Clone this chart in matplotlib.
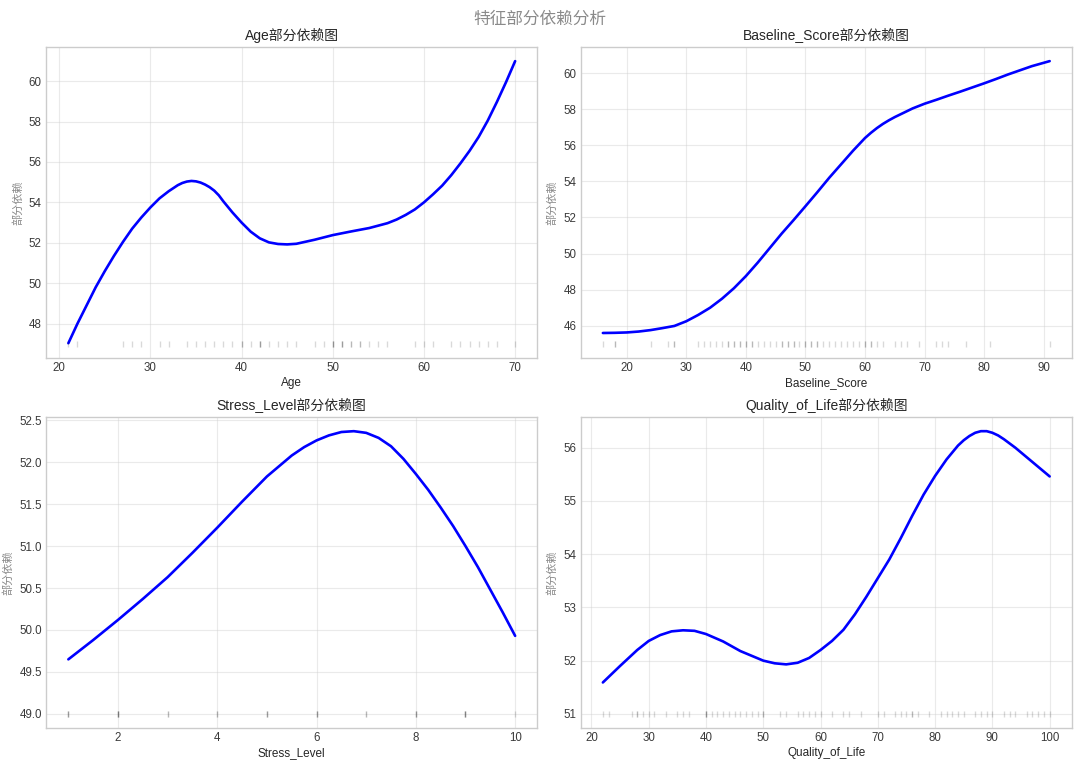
import matplotlib
matplotlib.use("Agg")
import matplotlib.pyplot as plt

plt.style.use('seaborn-v0_8-whitegrid')
plt.rcParams['font.family'] = ['Liberation Sans', 'Noto Sans CJK SC', 'DejaVu Sans']
plt.rcParams['axes.unicode_minus'] = False

suptitle_text = "特征部分依赖分析"
title_suffix = "部分依赖图"
ylabel_text = "部分依赖"

features = ["Age", "Baseline_Score", "Stress_Level", "Quality_of_Life"]

# Partial dependence curves
age_x = [21, 22, 23, 24, 25, 26, 27, 28, 29, 30, 31, 32, 33, 33.5, 34, 34.5, 35, 35.5, 36,
         36.5, 37, 37.5, 38, 39, 40, 41, 42, 43, 44, 45, 46, 47, 48, 50, 52, 54, 56, 57, 58,
         59, 60, 61, 62, 63, 64, 65, 66, 67, 68, 69, 70]
age_y = [47.03, 48.0, 48.9, 49.8, 50.6, 51.35, 52.05, 52.7, 53.25, 53.75, 54.2, 54.55, 54.85,
         54.96, 55.03, 55.06, 55.04, 54.98, 54.88, 54.75, 54.58, 54.35, 54.05, 53.5, 53.0,
         52.55, 52.22, 52.02, 51.94, 51.92, 51.95, 52.05, 52.15, 52.38, 52.56, 52.73, 52.97,
         53.15, 53.38, 53.65, 54.0, 54.4, 54.83, 55.35, 55.93, 56.55, 57.24, 58.05, 58.97,
         59.95, 60.99]

base_x = [16, 18, 20, 22, 24, 26, 28, 30, 32, 34, 36, 38, 40, 42, 44, 46, 48, 50, 52, 54,
          56, 58, 59, 60, 61, 62, 63, 64, 65, 66, 68, 70, 72, 74, 76, 78, 80, 82, 84, 86, 88, 91]
base_y = [45.6, 45.61, 45.63, 45.68, 45.76, 45.87, 45.99, 46.25, 46.6, 47.0, 47.5, 48.08,
          48.75, 49.5, 50.3, 51.1, 51.85, 52.62, 53.4, 54.2, 54.95, 55.7, 56.05, 56.4, 56.69,
          56.95, 57.18, 57.38, 57.56, 57.72, 58.04, 58.3, 58.52, 58.75, 58.97, 59.2, 59.43,
          59.67, 59.92, 60.15, 60.38, 60.66]

stress_x = [1, 1.5, 2, 2.5, 3, 3.5, 4, 4.5, 5, 5.5, 5.75, 6, 6.25, 6.5, 6.75, 7, 7.25, 7.5,
            7.75, 8, 8.25, 8.5, 8.75, 9, 9.25, 9.5, 9.75, 10]
stress_y = [49.65, 49.88, 50.12, 50.37, 50.63, 50.92, 51.22, 51.53, 51.83, 52.08, 52.18,
            52.26, 52.32, 52.36, 52.37, 52.35, 52.29, 52.19, 52.04, 51.86, 51.67, 51.46,
            51.24, 51.0, 50.75, 50.48, 50.21, 49.93]

qol_x = [22, 25, 28, 30, 32, 34, 36, 38, 40, 43, 46, 50, 52, 54, 56, 58, 60, 62, 64, 66, 68,
         70, 72, 74, 76, 78, 80, 82, 84, 85, 86, 87, 88, 89, 90, 91, 92, 94, 96, 98, 100]
qol_y = [51.59, 51.9, 52.2, 52.37, 52.48, 52.55, 52.57, 52.56, 52.5, 52.36, 52.18, 52.0,
         51.95, 51.93, 51.96, 52.05, 52.2, 52.37, 52.58, 52.87, 53.2, 53.55, 53.9, 54.3,
         54.72, 55.12, 55.47, 55.78, 56.04, 56.14, 56.22, 56.28, 56.31, 56.31, 56.28, 56.23,
         56.16, 56.0, 55.82, 55.64, 55.46]

# Rug (sample values) and the level at which they are drawn
age_rug = [21, 22, 27, 28, 29, 31, 32, 34, 35, 36, 37, 38, 39, 40, 40, 41, 42, 42, 42, 43, 44,
           45, 46, 48, 49, 50, 50, 50, 51, 51, 51, 52, 52, 53, 53, 54, 55, 56, 59, 60, 61, 63,
           64, 65, 66, 67, 68, 70]
base_rug = [16, 18, 18, 24, 27, 28, 28, 32, 33, 34, 35, 36, 37, 37, 38, 38, 39, 39, 40, 40, 41,
            41, 42, 43, 44, 45, 46, 46, 47, 47, 48, 48, 49, 50, 50, 51, 51, 52, 52, 53, 54, 55,
            56, 57, 58, 59, 60, 60, 61, 61, 62, 63, 65, 66, 67, 69, 72, 73, 74, 77, 81, 91]
stress_rug = [1, 1, 1, 2, 2, 2, 2, 3, 3, 4, 4, 5, 5, 5, 6, 6, 6, 7, 7, 8, 8, 8, 9, 9, 9, 9, 10]
qol_rug = [22, 23, 27, 28, 28, 29, 30, 31, 33, 35, 36, 37, 40, 40, 40, 41, 42, 43, 44, 45, 46,
           47, 48, 49, 50, 50, 53, 54, 56, 57, 58, 59, 60, 62, 64, 65, 67, 70, 71, 73, 74, 75,
           76, 76, 77, 79, 81, 82, 83, 84, 85, 87, 88, 89, 90, 92, 93, 94, 96, 97, 98, 99, 100]
rug_levels = [47.0, 45.0, 49.0, 51.0]

curves_x = [age_x, base_x, stress_x, qol_x]
curves_y = [age_y, base_y, stress_y, qol_y]
rugs = [age_rug, base_rug, stress_rug, qol_rug]

fig, axes = plt.subplots(2, 2, figsize=(10.8, 7.64), dpi=100)
fig.subplots_adjust(left=0.0426, right=0.9926, bottom=0.0471, top=0.9385,
                    wspace=0.0876, hspace=0.19)

for ax, name, xs, ys, rug, lvl in zip(axes.flat, features, curves_x, curves_y, rugs, rug_levels):
    ax.plot(xs, ys, color='blue', linewidth=1.9, solid_joinstyle='round')
    ax.plot(rug, [lvl] * len(rug), linestyle='none', marker='|', color='black',
            alpha=0.15, markersize=4)
    ax.set_title(name + title_suffix, fontsize=10, color='#262626', pad=5)
    ax.set_xlabel(name, fontsize=8.5, color='#262626', labelpad=2)
    ax.set_ylabel(ylabel_text, fontsize=8, color='#8a8a8a', labelpad=4)
    ax.tick_params(labelsize=8.3, colors='#3a3a3a', pad=3)
    ax.grid(True, alpha=0.4)
    for sp in ax.spines.values():
        sp.set_color('#cccccc')
        sp.set_linewidth(1.0)

fig.suptitle(suptitle_text, fontsize=12, color='#8a8a8a', y=0.985)

fig.savefig("out.png", dpi=100)
